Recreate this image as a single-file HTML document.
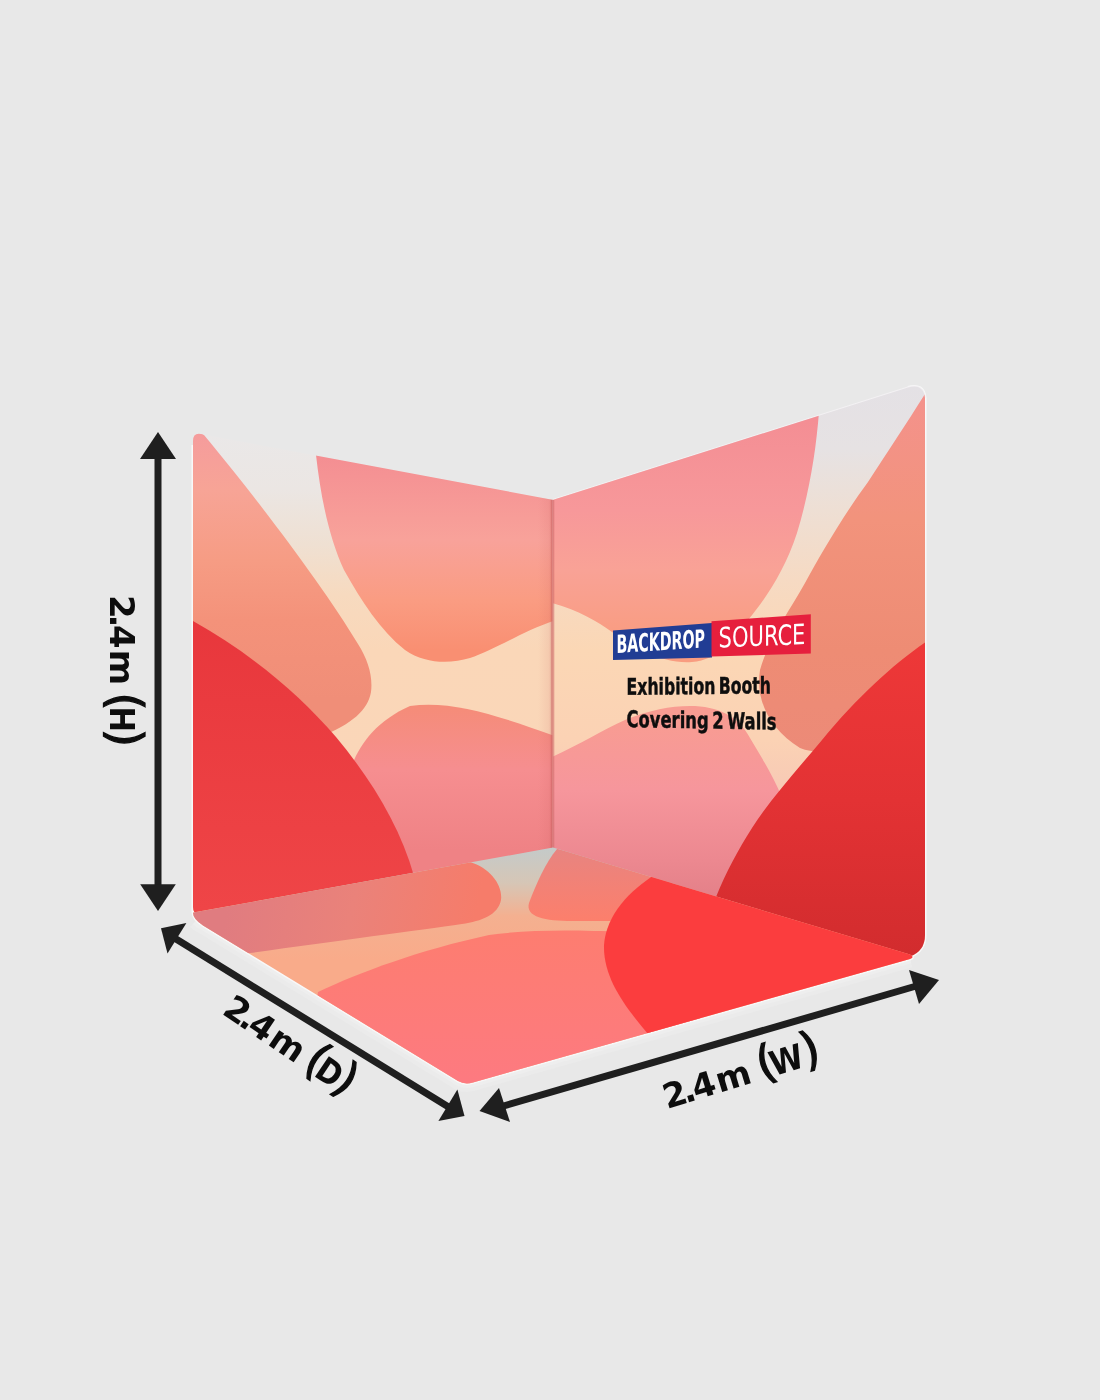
<!DOCTYPE html>
<html>
<head>
<meta charset="utf-8">
<style>
html,body{margin:0;padding:0;background:#e8e8e8;}
body{width:1100px;height:1400px;overflow:hidden;}
svg{display:block;}
.lbl{font-family:"DejaVu Sans","Liberation Sans",sans-serif;font-weight:bold;fill:#0d0d0d;}
</style>
</head>
<body>
<svg width="1100" height="1400" viewBox="0 0 1100 1400">
<defs>
  <clipPath id="cL"><path d="M193,441 Q193,432.5 201,434 L553.5,500 L553.5,851 L201,914 Q193,915.5 193,907 Z"/></clipPath>
  <clipPath id="cR"><path d="M552.5,500 L908,387.4 Q923.5,383 925,398 L925,935 Q925,951 910,956.5 L552.5,851 Z"/></clipPath>
  <clipPath id="cF"><path id="floorP" d="M193,912.5 L553,847.5 L910,954.5 Q915,957 910,959 L473,1082.4 Q465,1085 458,1081 L203,925.4 Q193,919 193,912.5 Z"/></clipPath>
  <linearGradient id="gCreamL" x1="0" y1="435" x2="0" y2="760" gradientUnits="userSpaceOnUse">
    <stop offset="0.0" stop-color="#eae8e8"/><stop offset="0.169" stop-color="#ebe6e3"/><stop offset="0.338" stop-color="#efe0d2"/><stop offset="0.492" stop-color="#f7dabf"/><stop offset="0.662" stop-color="#fad7b8"/><stop offset="1.0" stop-color="#fad6b8"/>
  </linearGradient>
  <linearGradient id="gCreamR" x1="0" y1="385" x2="0" y2="820" gradientUnits="userSpaceOnUse">
    <stop offset="0.0" stop-color="#e4e1e5"/><stop offset="0.149" stop-color="#e6e2e3"/><stop offset="0.287" stop-color="#eedfd4"/><stop offset="0.448" stop-color="#f6dac3"/><stop offset="0.609" stop-color="#fbd7b5"/><stop offset="0.816" stop-color="#fbd2b4"/><stop offset="1.0" stop-color="#f5c4b6"/>
  </linearGradient>
  <linearGradient id="gWedge" x1="0" y1="435" x2="0" y2="700" gradientUnits="userSpaceOnUse">
    <stop offset="0.0" stop-color="#f59c9c"/><stop offset="0.208" stop-color="#f7a496"/><stop offset="0.472" stop-color="#f69c84"/><stop offset="0.698" stop-color="#f4927a"/><stop offset="1.0" stop-color="#f08e78"/>
  </linearGradient>
  <linearGradient id="gUpL" x1="0" y1="455" x2="0" y2="650" gradientUnits="userSpaceOnUse">
    <stop offset="0.0" stop-color="#f48e92"/><stop offset="0.436" stop-color="#f8a29a"/><stop offset="0.744" stop-color="#fa9c82"/><stop offset="1.0" stop-color="#f98f72"/>
  </linearGradient>
  <linearGradient id="gLowL" x1="0" y1="705" x2="0" y2="850" gradientUnits="userSpaceOnUse">
    <stop offset="0" stop-color="#f58c78"/><stop offset="0.45" stop-color="#f68e90"/><stop offset="1" stop-color="#ef8285"/>
  </linearGradient>
  <linearGradient id="gRedL" x1="0" y1="620" x2="0" y2="910" gradientUnits="userSpaceOnUse">
    <stop offset="0" stop-color="#e8373c"/><stop offset="1" stop-color="#ef4547"/>
  </linearGradient>
  <linearGradient id="gUpR" x1="0" y1="420" x2="0" y2="640" gradientUnits="userSpaceOnUse">
    <stop offset="0.0" stop-color="#f48e94"/><stop offset="0.409" stop-color="#f7989a"/><stop offset="0.682" stop-color="#f9a296"/><stop offset="1.0" stop-color="#f99c80"/>
  </linearGradient>
  <linearGradient id="gSalR" x1="0" y1="395" x2="0" y2="760" gradientUnits="userSpaceOnUse">
    <stop offset="0.0" stop-color="#f4928c"/><stop offset="0.342" stop-color="#f2937c"/><stop offset="0.699" stop-color="#ee8c74"/><stop offset="1.0" stop-color="#ec8a78"/>
  </linearGradient>
  <linearGradient id="gLowR" x1="0" y1="720" x2="0" y2="900" gradientUnits="userSpaceOnUse">
    <stop offset="0.0" stop-color="#f89c92"/><stop offset="0.389" stop-color="#f6969c"/><stop offset="0.778" stop-color="#ec8890"/><stop offset="1.0" stop-color="#e38088"/>
  </linearGradient>
  <linearGradient id="gRedR" x1="0" y1="640" x2="0" y2="955" gradientUnits="userSpaceOnUse">
    <stop offset="0.0" stop-color="#ee3838"/><stop offset="0.508" stop-color="#e33234"/><stop offset="1.0" stop-color="#d22c2e"/>
  </linearGradient>
  <linearGradient id="gFloorCream" x1="0" y1="850" x2="0" y2="960" gradientUnits="userSpaceOnUse">
    <stop offset="0" stop-color="#c5cac8"/><stop offset="0.3" stop-color="#d6c6b6"/><stop offset="0.6" stop-color="#f4b090"/><stop offset="1" stop-color="#f9ab8a"/>
  </linearGradient>
  <linearGradient id="gFloorL" x1="230" y1="895" x2="470" y2="945" gradientUnits="userSpaceOnUse">
    <stop offset="0" stop-color="#e07c80"/><stop offset="0.5" stop-color="#ea827a"/><stop offset="1" stop-color="#f67c6a"/>
  </linearGradient>
  <linearGradient id="gFloorBig" x1="0" y1="930" x2="0" y2="1080" gradientUnits="userSpaceOnUse">
    <stop offset="0" stop-color="#fd7d70"/><stop offset="1" stop-color="#fd7a80"/>
  </linearGradient>
  <linearGradient id="gFloorSal" x1="0" y1="850" x2="0" y2="920" gradientUnits="userSpaceOnUse">
    <stop offset="0" stop-color="#e88480"/><stop offset="1" stop-color="#fc7f6c"/>
  </linearGradient>
  <linearGradient id="gFoldL" x1="538" y1="0" x2="554" y2="0" gradientUnits="userSpaceOnUse">
    <stop offset="0" stop-color="#c05050" stop-opacity="0"/><stop offset="0.7" stop-color="#c05050" stop-opacity="0.1"/><stop offset="0.85" stop-color="#b84848" stop-opacity="0.35"/><stop offset="1" stop-color="#b84848" stop-opacity="0.45"/>
  </linearGradient>
  <linearGradient id="gFoldR" x1="551" y1="0" x2="556" y2="0" gradientUnits="userSpaceOnUse">
    <stop offset="0" stop-color="#b84848" stop-opacity="0.45"/><stop offset="1" stop-color="#b84848" stop-opacity="0"/>
  </linearGradient>
</defs>

<rect width="1100" height="1400" fill="#e8e8e8"/>

<!-- white outline -->
<path d="M196,921 Q198,923 203,925.4 L458,1081 Q465,1085 473,1082.4 L910,959" fill="none" stroke="#ebebeb" stroke-width="17" stroke-linejoin="round"/>
<path d="M196,921 Q198,923 203,925.4 L458,1081 Q465,1085 473,1082.4 L910,959" fill="none" stroke="#eeeeee" stroke-width="9" stroke-linejoin="round"/>
<path d="M193,445 L193,912 Q193,919 203,925.4 L458,1081 Q465,1085 473,1082.4 L910,959 Q915,957 910,956.5 Q925,951 925,935 L925,398 Q923.5,383 908,387.4" fill="none" stroke="#f8f8f8" stroke-width="3" stroke-linejoin="round"/>
<path d="M553,500 L908,387.4 Q923,383 925,398" fill="none" stroke="#f3f1f3" stroke-width="2"/>
<!-- LEFT WALL -->
<g clip-path="url(#cL)">
  <rect x="180" y="420" width="380" height="500" fill="url(#gCreamL)"/>
  <!-- left wedge -->
  <path d="M180,420 L204,435 C250,490 322,584 358,644 C368,660 373,676 371,692 C368,710 352,724 320,737 L180,770 Z" fill="url(#gWedge)"/>
  <!-- upper pink blob -->
  <path d="M317,455 L560,499 L560,619 C530,627 495,650 470,658 C450,664 425,664 405,650 C380,630 362,602 344,570 C330,540 321,500 316,455 Z" fill="url(#gUpL)"/>
  <!-- lower pink blob -->
  <path d="M345,800 C346,770 360,728 410,706 C452,700 500,716 560,738 L560,860 L345,900 Z" fill="url(#gLowL)"/>
  <!-- red -->
  <path d="M180,614 C240,645 296,690 336,737 C371,779 400,826 414,876 L180,920 Z" fill="url(#gRedL)"/>
  <!-- fold shadow -->
  <rect x="538" y="490" width="16" height="370" fill="url(#gFoldL)"/>
</g>

<!-- RIGHT WALL -->
<g clip-path="url(#cR)">
  <rect x="545" y="370" width="390" height="600" fill="url(#gCreamR)"/>
  <!-- upper-left pink -->
  <path d="M540,499 L819,412 C816,450 810,490 797,533 C785,570 765,600 748,620 C735,640 718,660 692,662 C662,664 635,648 612,632 C595,620 575,608 540,600 Z" fill="url(#gUpR)"/>
  <!-- right salmon -->
  <path d="M930,386 C910,418 890,448 868,482 C845,513 820,555 805,583 C790,610 768,640 760,670 C755,700 770,730 800,748 C830,760 880,740 935,720 Z" fill="url(#gSalR)"/>
  <!-- lower-left pink -->
  <path d="M545,760 C578,746 600,731 625,720 C650,710 670,706 690,706 C718,706 738,716 750,738 C762,758 773,776 781,795 L790,840 L790,960 L545,960 Z" fill="url(#gLowR)"/>
  <!-- red -->
  <path d="M935,636 C900,658 860,694 822,740 C795,772 770,800 752,828 C738,850 726,872 716,897 L712,910 L935,970 Z" fill="url(#gRedR)"/>

</g>

<line x1="552.8" y1="500" x2="552.8" y2="849" stroke="#cf6a6a" stroke-width="3" opacity="0.55"/>
<!-- FLOOR -->
<g clip-path="url(#cF)">
  <rect x="180" y="840" width="760" height="250" fill="url(#gFloorCream)"/>
  <!-- left floor blob -->
  <path d="M180,915 L470,862 C490,868 503,885 501,900 C498,915 482,921 462,924 C420,930 330,942 250,953 L180,965 Z" fill="url(#gFloorL)"/>
  <!-- right salmon blob -->
  <path d="M557,849 C546,862 536,884 529,903 C525,917 545,921 572,921 L660,921 L680,860 Z" fill="url(#gFloorSal)"/>
  <!-- big pink -->
  <path d="M318,992 C360,972 420,950 489,935 C540,928 600,930 700,936 L700,1100 L300,1100 Z" fill="url(#gFloorBig)"/>
  <!-- red blob -->
  <path d="M656,874 C630,890 606,915 604,945 C603,980 628,1010 648,1034 L940,960 L940,870 Z" fill="#fb3d3e"/>
</g>


<!-- LOGO + TEXT on right wall -->
<polygon points="613,630.5 712,623 712,657.5 613,660" fill="#213d94"/>
<polygon points="711.5,621.3 810.8,614.2 810.8,653.5 711.5,656.5" fill="#e61f3d"/>
<text font-family="DejaVu Sans Condensed,DejaVu Sans,sans-serif" font-weight="bold" font-size="25" fill="#ffffff" transform="translate(616.5,653) skewY(-3.6)" textLength="88.5" lengthAdjust="spacingAndGlyphs">BACKDROP</text>
<text font-family="DejaVu Sans,sans-serif" font-size="28" fill="#ffffff" transform="translate(718.6,647.5) skewY(-2.3)" textLength="86.8" lengthAdjust="spacingAndGlyphs">SOURCE</text>
<text font-family="DejaVu Sans,sans-serif" font-weight="bold" font-size="23" fill="#0e0e0e" stroke="#0e0e0e" stroke-width="0.5" word-spacing="-3" transform="translate(626.6,694.8) skewY(-0.6)" textLength="144.4" lengthAdjust="spacingAndGlyphs">Exhibition Booth</text>
<text font-family="DejaVu Sans,sans-serif" font-weight="bold" font-size="23" fill="#0e0e0e" stroke="#0e0e0e" stroke-width="0.5" word-spacing="-3" transform="translate(626.6,727) skewY(1)" textLength="150" lengthAdjust="spacingAndGlyphs">Covering 2 Walls</text>

<!-- DIMENSION ARROWS -->
<g fill="#1f1f1f" stroke="none">
  <!-- H -->
  <rect x="154.5" y="455" width="7" height="432"/>
  <polygon points="158,432 140,459 176,459"/>
  <polygon points="158,911 140.2,884.2 175.8,884.2"/>
  <!-- D -->
  <line x1="172" y1="936.5" x2="451" y2="1108.5" stroke="#1f1f1f" stroke-width="7"/>
  <polygon points="161,928.2 186.4,923 167.5,953.6"/>
  <polygon points="464.5,1116 457.4,1089.5 438.4,1121"/>
  <!-- W -->
  <line x1="500" y1="1107" x2="918" y2="985.5" stroke="#1f1f1f" stroke-width="7"/>
  <polygon points="479.5,1111 499,1088 510,1122"/>
  <polygon points="939,980 909,970 919,1004"/>
</g>

<!-- LABELS -->
<g class="lbl" transform="translate(110,598) rotate(90)"><text x="8.8" y="0" font-size="34" text-anchor="middle">2</text><text x="23" y="0" font-size="34" text-anchor="middle">.</text><text x="38.8" y="0" font-size="34" text-anchor="middle">4</text><text x="69.5" y="0" font-size="34" text-anchor="middle">m</text><text x="103.6" y="0" font-size="46" font-weight="normal" stroke="#0d0d0d" stroke-width="1.3" text-anchor="middle">(</text><text transform="translate(121.4,0) scale(0.9,1)" x="0" y="0" font-size="34" text-anchor="middle">H</text><text x="140" y="0" font-size="46" font-weight="normal" stroke="#0d0d0d" stroke-width="1.3" text-anchor="middle">)</text></g>
<g class="lbl" transform="translate(223.5,1015) rotate(34)"><text x="8.8" y="0" font-size="34" text-anchor="middle">2</text><text x="23" y="0" font-size="34" text-anchor="middle">.</text><text x="38.8" y="0" font-size="34" text-anchor="middle">4</text><text x="69.5" y="0" font-size="34" text-anchor="middle">m</text><text x="103" y="0" font-size="46" font-weight="normal" stroke="#0d0d0d" stroke-width="1.3" text-anchor="middle">(</text><text transform="translate(120,0) scale(0.87,1)" x="0" y="0" font-size="34" text-anchor="middle">D</text><text x="138" y="0" font-size="46" font-weight="normal" stroke="#0d0d0d" stroke-width="1.3" text-anchor="middle">)</text></g>
<g class="lbl" transform="translate(670,1108) rotate(-17)"><text x="8.8" y="0" font-size="34" text-anchor="middle">2</text><text x="23" y="0" font-size="34" text-anchor="middle">.</text><text x="38.8" y="0" font-size="34" text-anchor="middle">4</text><text x="69.5" y="0" font-size="34" text-anchor="middle">m</text><text x="104.6" y="0" font-size="46" font-weight="normal" stroke="#0d0d0d" stroke-width="1.3" text-anchor="middle">(</text><text transform="translate(125.4,0) scale(0.9,1)" x="0" y="0" font-size="34" text-anchor="middle">W</text><text x="151" y="0" font-size="46" font-weight="normal" stroke="#0d0d0d" stroke-width="1.3" text-anchor="middle">)</text></g>

</svg>
</body>
</html>
